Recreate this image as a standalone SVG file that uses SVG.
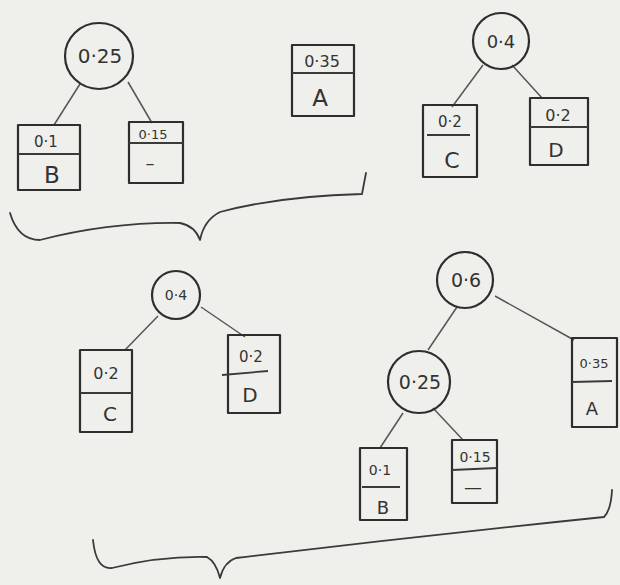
<svg xmlns="http://www.w3.org/2000/svg" width="620" height="585" viewBox="0 0 620 585">
<style>
.bg{fill:#efefec}
.nd{fill:none;stroke:#2e2e2e;stroke-width:2.2;stroke-linejoin:round}
.dv{fill:none;stroke:#3a3a3a;stroke-width:1.8}
.cn{fill:none;stroke:#555;stroke-width:1.5}
.br{fill:none;stroke:#3a3a3a;stroke-width:1.8;stroke-linecap:round;stroke-linejoin:round}
text{font-family:"DejaVu Sans","Liberation Sans",sans-serif;fill:#333;text-anchor:middle}
</style>
<rect class="bg" x="0" y="0" width="620" height="585"/>

<g id="connectors">
<line class="cn" x1="80" y1="84" x2="54" y2="125"/>
<line class="cn" x1="128" y1="82" x2="152" y2="123"/>
<line class="cn" x1="483" y1="65" x2="452" y2="107"/>
<line class="cn" x1="512" y1="65" x2="542" y2="98"/>
<line class="cn" x1="158" y1="316" x2="125" y2="350"/>
<line class="cn" x1="201" y1="307" x2="245" y2="337"/>
<line class="cn" x1="457" y1="307" x2="428" y2="350"/>
<line class="cn" x1="495" y1="296" x2="574" y2="340"/>
<line class="cn" x1="403" y1="413" x2="380" y2="448"/>
<line class="cn" x1="433" y1="408" x2="463" y2="440"/>
</g>

<g id="braces">
<path class="br" d="M10,213 Q18,240 40,240 Q110,222 180,223 Q195,226 200,240 Q204,220 220,212 Q280,196 362,194 L366,173"/>
<path class="br" d="M93,540 Q96,570 112,568 Q160,556 207,557 Q216,562 220,578 Q224,562 236,558 Q420,536 604,517 Q611,510 612,490"/>
</g>

<g id="n025a">
<ellipse class="nd" cx="99" cy="56" rx="34" ry="33"/>
<text x="100" y="63" font-size="20">0·25</text>
</g>
<g id="n01a">
<rect class="nd" x="18" y="125" width="62" height="65"/>
<line class="dv" x1="18" y1="154" x2="80" y2="154"/>
<text x="46" y="147" font-size="15">0·1</text>
<text x="52" y="183" font-size="23">B</text>
</g>
<g id="n015a">
<rect class="nd" x="129" y="122" width="54" height="61"/>
<line class="dv" x1="129" y1="143" x2="183" y2="143"/>
<text x="153" y="139" font-size="13">0·15</text>
<text x="150" y="169" font-size="18">–</text>
</g>
<g id="n035a">
<rect class="nd" x="292" y="45" width="62" height="71"/>
<line class="dv" x1="292" y1="73" x2="354" y2="73"/>
<text x="322" y="67" font-size="16">0·35</text>
<text x="320" y="106" font-size="23">A</text>
</g>
<g id="n04a">
<circle class="nd" cx="501" cy="41" r="28"/>
<text x="501" y="48" font-size="18">0·4</text>
</g>
<g id="n02ca">
<rect class="nd" x="423" y="105" width="54" height="72"/>
<line class="dv" x1="427" y1="135" x2="470" y2="135"/>
<text x="450" y="127" font-size="15">0·2</text>
<text x="452" y="168" font-size="22">C</text>
</g>
<g id="n02da">
<rect class="nd" x="530" y="98" width="58" height="67"/>
<line class="dv" x1="530" y1="127" x2="588" y2="127"/>
<text x="558" y="121" font-size="16">0·2</text>
<text x="556" y="157" font-size="20">D</text>
</g>

<g id="n04b">
<circle class="nd" cx="176" cy="295" r="24"/>
<text x="176" y="300" font-size="14">0·4</text>
</g>
<g id="n02cb">
<rect class="nd" x="80" y="350" width="52" height="82"/>
<line class="dv" x1="80" y1="393" x2="132" y2="393"/>
<text x="106" y="379" font-size="16">0·2</text>
<text x="110" y="421" font-size="20">C</text>
</g>
<g id="n02db">
<rect class="nd" x="228" y="335" width="52" height="78"/>
<line class="dv" x1="222" y1="375" x2="268" y2="371"/>
<text x="251" y="362" font-size="15">0·2</text>
<text x="250" y="402" font-size="20">D</text>
</g>
<g id="n06">
<circle class="nd" cx="465" cy="280" r="28"/>
<text x="466" y="287" font-size="19">0·6</text>
</g>
<g id="n025b">
<ellipse class="nd" cx="419" cy="382" rx="31" ry="31"/>
<text x="420" y="389" font-size="19">0·25</text>
</g>
<g id="n035b">
<rect class="nd" x="572" y="338" width="45" height="89"/>
<line class="dv" x1="572" y1="382" x2="612" y2="381"/>
<text x="594" y="368" font-size="13">0·35</text>
<text x="592" y="415" font-size="18">A</text>
</g>
<g id="n01b">
<rect class="nd" x="360" y="448" width="47" height="72"/>
<line class="dv" x1="362" y1="487" x2="400" y2="487"/>
<text x="380" y="475" font-size="14">0·1</text>
<text x="383" y="514" font-size="18">B</text>
</g>
<g id="n015b">
<rect class="nd" x="452" y="440" width="45" height="63"/>
<line class="dv" x1="452" y1="470" x2="497" y2="468"/>
<text x="475" y="462" font-size="14">0·15</text>
<text x="473" y="493" font-size="18">—</text>
</g>
</svg>
